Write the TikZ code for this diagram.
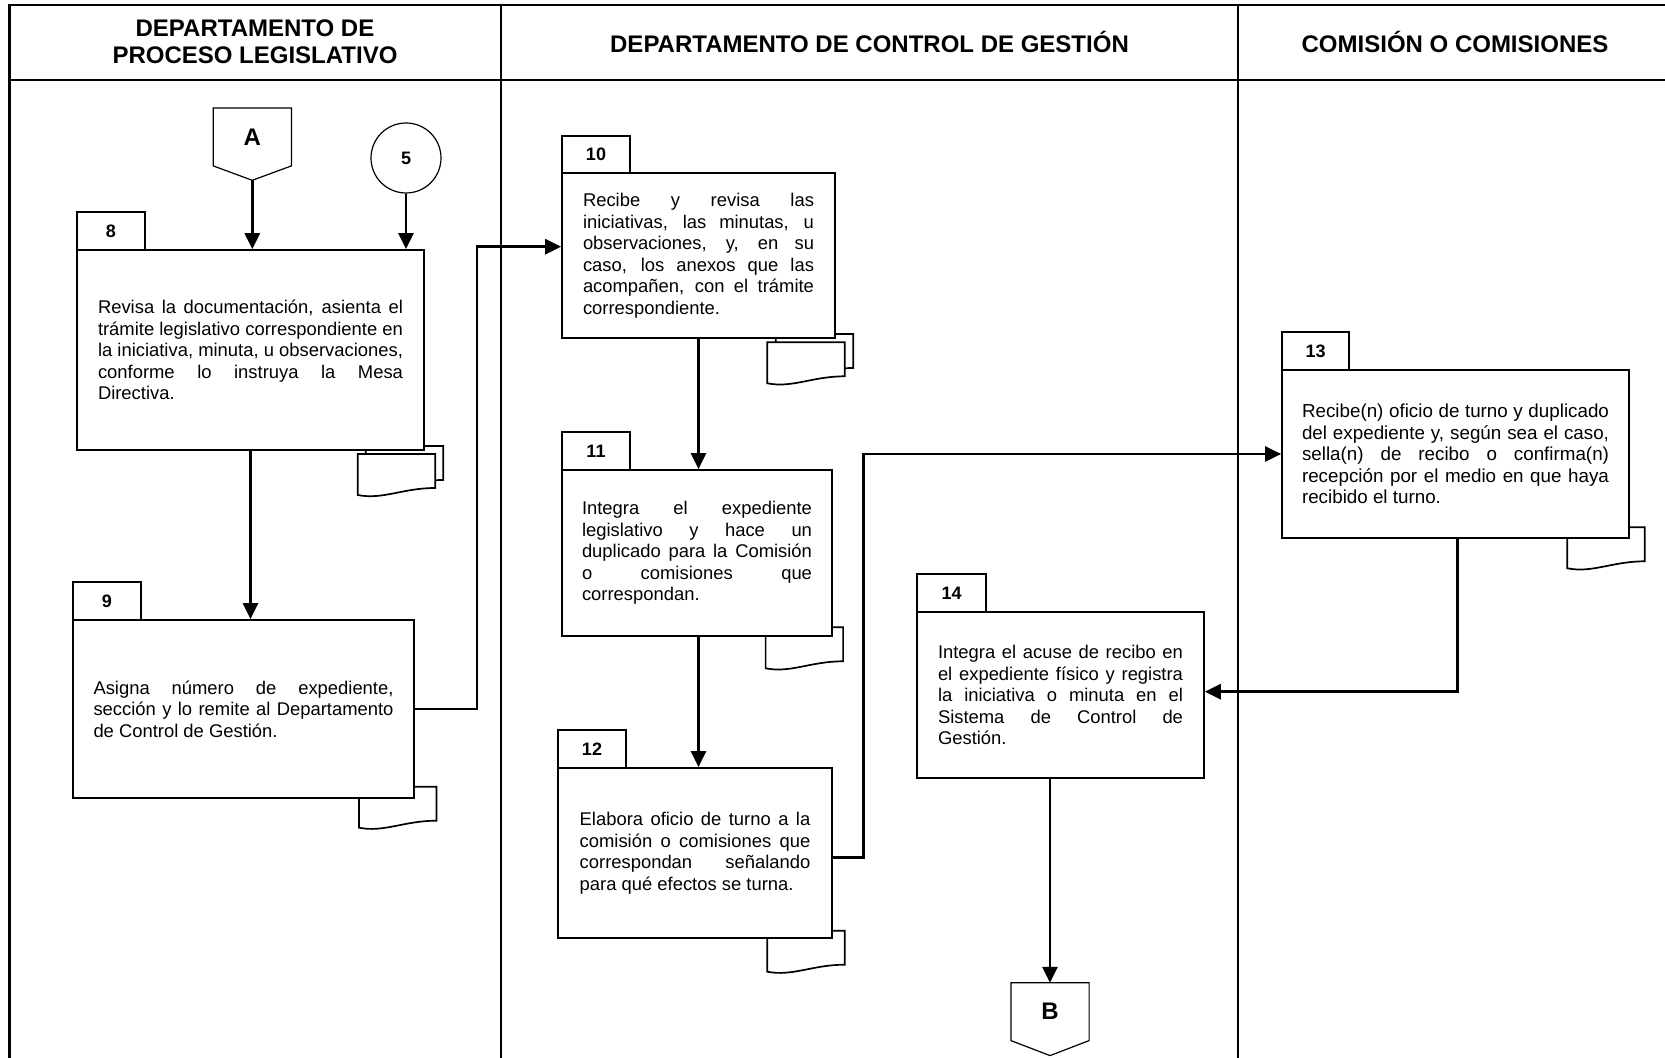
\documentclass[tikz,border=0pt]{standalone}
\usepackage{fontspec}
\setmainfont{Liberation Sans}
\usetikzlibrary{arrows.meta,backgrounds}

% justified text block with fixed line breaks
\newcommand\steptext[2]{\begin{minipage}{#1}\tolerance=10000\hbadness=10000\hyphenpenalty=10000 #2\end{minipage}}

\tikzset{
  lane/.style={line width=1.2pt},
  stepbox/.style={draw, line width=0.85pt, fill=white, inner sep=0pt,
    font=\fontsize{9.2}{10.75}\selectfont},
  numtab/.style={draw, line width=0.6pt, fill=white, inner sep=0pt,
    font=\fontsize{9}{10}\selectfont\bfseries},
  conn/.style={line width=1.35pt, -{Triangle[length=8pt,width=7.5pt]}},
  docline/.style={draw, line width=0.85pt, fill=white},
  head/.style={font=\fontsize{12}{13.6}\selectfont\bfseries, align=center},
  offpage/.style={inner sep=0pt, minimum width=38.7pt, minimum height=28.5pt,
    font=\fontsize{12}{14}\selectfont\bfseries},
  offline/.style={line width=0.6pt},
  pics/docsheet/.style={code={
    \path[docline] (0,0) -- (77.5,0) -- (77.5,34)
      .. controls (45,34) and (25,46) .. (0,41) -- cycle;}},
}

\begin{document}
\begin{tikzpicture}[x=0.5pt, y=-0.5pt]
\useasboundingbox (0,0) rectangle (1665,1058);

% swimlane frame and headers
\draw[lane] (9.3,1065) -- (9.3,5) -- (1670,5);
\draw[lane] (9.3,80) -- (1670,80);
\draw[lane] (501,5) -- (501,1065);
\draw[lane] (1238,5) -- (1238,1065);

\node[head] (h1) at (255,42) {DEPARTAMENTO DE\\PROCESO LEGISLATIVO};
\node[head] (h2) at (869.5,42) {DEPARTAMENTO DE CONTROL DE GESTIÓN};
\node[head] (h3) at (1455,42) {COMISIÓN O COMISIONES};

% process steps
\node[stepbox, minimum width=173.5pt, minimum height=100pt] (b8) at (250.5,350)
  {\steptext{152.5pt}{Revisa la documentación, asienta el\linebreak
  trámite legislativo correspondiente en\linebreak
  la iniciativa, minuta, u observaciones,\linebreak
  conforme lo instruya la Mesa\linebreak
  Directiva.}};
\node[numtab, minimum width=34pt, minimum height=19pt] (t8) at (111,231) {8};

\node[stepbox, minimum width=170.5pt, minimum height=89pt] (b9) at (243.5,709)
  {\steptext{150pt}{Asigna número de expediente,\linebreak
  sección y lo remite al Departamento\linebreak
  de Control de Gestión.}};
\node[numtab, minimum width=34pt, minimum height=19pt] (t9) at (107,601) {9};

\node[stepbox, minimum width=136.5pt, minimum height=82.5pt] (b10) at (698.5,255.5)
  {\steptext{115.5pt}{Recibe y revisa las\linebreak
  iniciativas, las minutas, u\linebreak
  observaciones, y, en su\linebreak
  caso, los anexos que las\linebreak
  acompañen, con el trámite\linebreak
  correspondiente.}};
\node[numtab, minimum width=34pt, minimum height=18.5pt] (t10) at (596,154.5) {10};

\node[stepbox, minimum width=135pt, minimum height=83pt] (b11) at (697,553)
  {\steptext{115pt}{Integra el expediente\linebreak
  legislativo y hace un\linebreak
  duplicado para la Comisión\linebreak
  o comisiones que\linebreak
  correspondan.}};
\node[numtab, minimum width=34pt, minimum height=19pt] (t11) at (596,451) {11};

\node[stepbox, minimum width=137pt, minimum height=85pt] (b12) at (695,853)
  {\steptext{115.3pt}{Elabora oficio de turno a la\linebreak
  comisión o comisiones que\linebreak
  correspondan señalando\linebreak
  para qué efectos se turna.}};
\node[numtab, minimum width=34pt, minimum height=19pt] (t12) at (592,749) {12};

\node[stepbox, minimum width=173.5pt, minimum height=84pt,
  font=\fontsize{9.4}{10.75}\selectfont] (b13) at (1455.5,454)
  {\steptext{153.5pt}{Recibe(n) oficio de turno y duplicado\linebreak
  del expediente y, según sea el caso,\linebreak
  sella(n) de recibo o confirma(n)\linebreak
  recepción por el medio en que haya\linebreak
  recibido el turno.}};
\node[numtab, minimum width=33.5pt, minimum height=19pt] (t13) at (1315.5,351) {13};

\node[stepbox, minimum width=143.5pt, minimum height=83pt] (b14) at (1060.5,695)
  {\steptext{122.5pt}{Integra el acuse de recibo en\linebreak
  el expediente físico y registra\linebreak
  la iniciativa o minuta en el\linebreak
  Sistema de Control de\linebreak
  Gestión.}};
\node[numtab, minimum width=34.5pt, minimum height=19pt] (t14) at (951.5,593) {14};

% documents tucked behind the steps
\begin{pgfonlayer}{background}
  \pic at (365.7,446) {docsheet};
  \pic at (357.7,454) {docsheet};
  \pic at (775.7,334) {docsheet};
  \pic at (767.3,342.3) {docsheet};
  \pic at (359,786.7) {docsheet};
  \pic at (765.6,627.3) {docsheet};
  \pic at (767.3,930.7) {docsheet};
  \pic at (1567.3,527.3) {docsheet};
\end{pgfonlayer}

% off-page connectors and on-page connector
\node[offpage] (offA) at (252.3,137) {A};
\draw[offline] (offA.north west) -- (offA.north east) -- (offA.south east)
  -- ([yshift=-7.2pt]offA.south) -- (offA.south west) -- cycle;
\node[offpage] (offB) at (1050,1011.7) {B};
\draw[offline] (offB.north west) -- (offB.north east) -- (offB.south east)
  -- ([yshift=-7.5pt]offB.south) -- (offB.south west) -- cycle;
\node[draw, circle, line width=0.6pt, minimum size=35pt, inner sep=0pt,
  font=\fontsize{9}{10}\selectfont\bfseries] (c5) at (406,158) {5};

% flow
\coordinate (j9) at (477,246.7);
\coordinate (j12) at (863.3,454);
\coordinate (j13) at (1457.3,691.7);

\draw[conn] ([yshift=-7.2pt]offA.south) -- (offA.south |- b8.north);
\draw[conn] (c5.south) -- (c5.south |- b8.north);
\draw[conn] (b8.south) -- (b8.south |- b9.north);
\draw[conn] (b9.east) -| (j9) -- (j9 -| b10.west);
\draw[conn] (b10.south) -- (b10.south |- b11.north);
\draw[conn] (b10.south |- b11.south) -- (b10.south |- b12.north);
\draw[conn] ([yshift=-2.15pt]b12.east) -| (j12) -- (j12 -| b13.west);
\draw[conn] (j13 |- b13.south) -- (j13) -- (j13 -| b14.east);
\draw[conn] (b14.south -| offB.north) -- (offB.north);
\end{tikzpicture}
\end{document}
